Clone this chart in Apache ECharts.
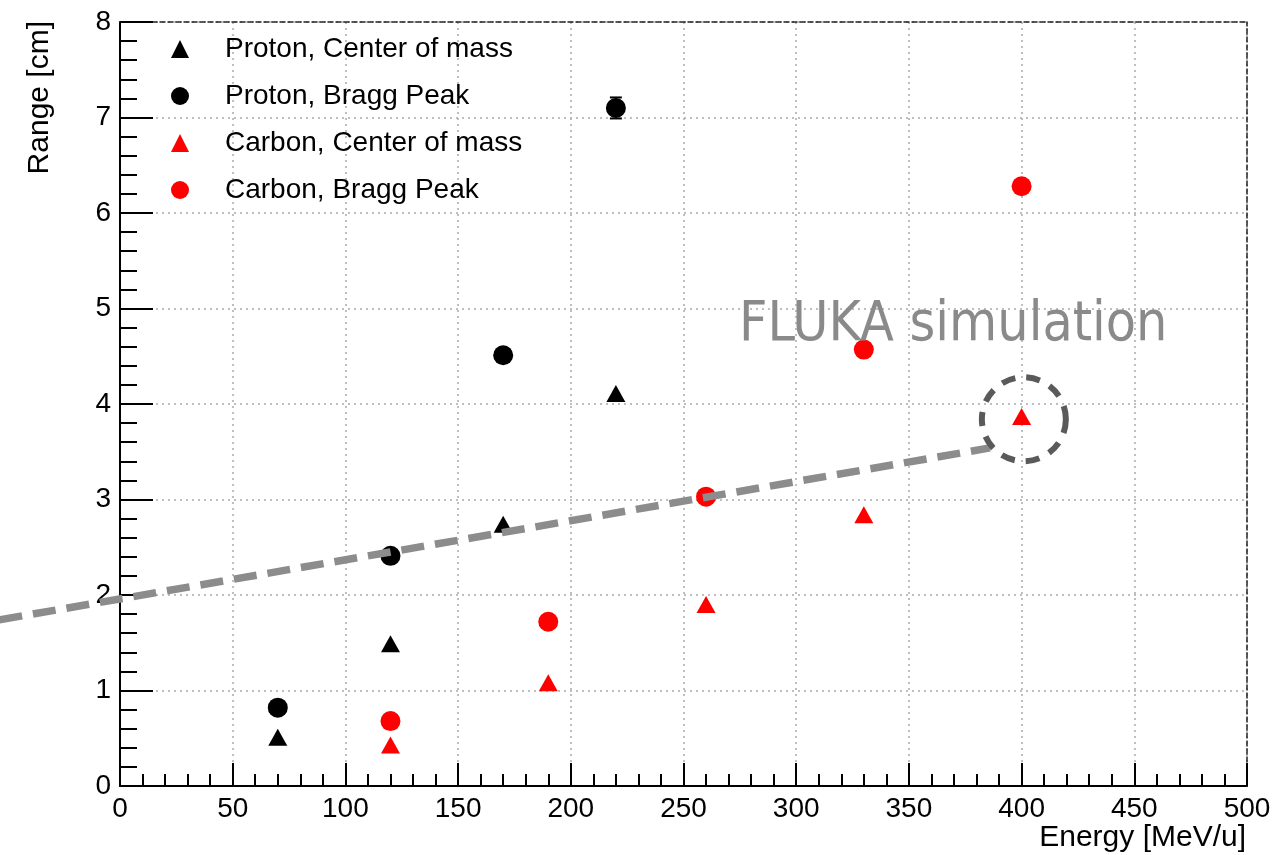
<!DOCTYPE html>
<html><head><meta charset="utf-8">
<script src="https://cdn.jsdelivr.net/npm/echarts@6/dist/echarts.min.js"></script>
<style>html,body{margin:0;padding:0;background:#fff}#c{width:1275px;height:855px}</style>
</head><body><div id="c"></div>
<script>
// ---- data ----
const seriesNames = ['Proton, Center of mass', 'Proton, Bragg Peak', 'Carbon, Center of mass', 'Carbon, Bragg Peak'];
const protonCM_E = [70, 120, 170, 220];
const protonCM_R = [0.51, 1.49, 2.74, 4.11];
const protonBP_E = [70, 120, 170, 220];
const protonBP_R = [0.82, 2.41, 4.51, 7.10];
const protonBP_Err = [0, 0, 0, 0.11];
const carbonCM_E = [120, 190, 260, 330, 400];
const carbonCM_R = [0.43, 1.08, 1.90, 2.84, 3.87];
const carbonBP_E = [120, 190, 260, 330, 400];
const carbonBP_R = [0.68, 1.72, 3.03, 4.57, 6.28];
const xTickValues = [0, 50, 100, 150, 200, 250, 300, 350, 400, 450, 500];
const yTickValues = [0, 1, 2, 3, 4, 5, 6, 7, 8];
// annotations (data coordinates)
const guideLine = [[-53.5, 1.74], [386, 3.54]];
const highlightCenter = [401, 3.84];
const annotationText = 'FLUKA simulation';
const xTitle = 'Energy [MeV/u]';
const yTitle = 'Range [cm]';

const zip = (a, b) => a.map((v, i) => [v, b[i]]);
const FONT = '"Liberation Sans", Arial, Helvetica, sans-serif';

const chart = echarts.init(document.getElementById('c'), null, {renderer: 'canvas'});

const axisCommon = {
  type: 'value',
  axisLine: {show: true, onZero: false, lineStyle: {color: '#000', width: 2}},
  axisLabel: {color: '#000', fontFamily: FONT, fontSize: 28, margin: 8},
  splitLine: {show: true, lineStyle: {color: '#aaa', width: 1.5, type: [2, 4]}},
  minorTick: {show: true, splitNumber: 5, lineStyle: {color: '#000', width: 2}},
  minorSplitLine: {show: false}
};

const option = {
  animation: false,
  backgroundColor: '#fff',
  grid: {left: 120, top: 22, right: 28, bottom: 69, show: false},
  xAxis: [
    Object.assign({}, axisCommon, {
      min: xTickValues[0], max: xTickValues[xTickValues.length - 1], interval: 50,
      axisTick: {show: true, inside: true, length: 23, lineStyle: {color: '#000', width: 2}},
      minorTick: {show: true, splitNumber: 5, length: 12, lineStyle: {color: '#000', width: 2}},
      axisLabel: {color: '#000', fontFamily: FONT, fontSize: 28, margin: 9, showMaxLabel: true, showMinLabel: true}
    }),
    {type: 'value', position: 'top', min: 0, max: 500, interval: 50,
      axisLine: {show: true, onZero: false, lineStyle: {color: '#222', width: 1.5, type: [5, 3]}},
      axisTick: {show: false}, axisLabel: {show: false}, splitLine: {show: false}}
  ],
  yAxis: [
    Object.assign({}, axisCommon, {
      min: yTickValues[0], max: yTickValues[yTickValues.length - 1], interval: 1,
      axisTick: {show: true, inside: true, length: 33, lineStyle: {color: '#000', width: 2}},
      minorTick: {show: true, splitNumber: 5, length: 17, lineStyle: {color: '#000', width: 2}},
      axisLabel: {color: '#000', fontFamily: FONT, fontSize: 28, margin: 9, showMaxLabel: true, showMinLabel: true}
    }),
    {type: 'value', position: 'right', min: 0, max: 8, interval: 1,
      axisLine: {show: true, onZero: false, lineStyle: {color: '#222', width: 1.5, type: [5, 3]}},
      axisTick: {show: false}, axisLabel: {show: false}, splitLine: {show: false}}
  ],
  legend: {
    orient: 'vertical', left: 166, top: 29,
    itemWidth: 18, itemHeight: 18, itemGap: 17,
    itemStyle: {opacity: 1},
    textStyle: {color: '#000', fontFamily: FONT, fontSize: 28, lineHeight: 30, padding: [0, 0, 0, 31]},
    data: [
      {name: seriesNames[0], icon: 'triangle'},
      {name: seriesNames[1], icon: 'circle'},
      {name: seriesNames[2], icon: 'triangle'},
      {name: seriesNames[3], icon: 'circle'}
    ]
  },
  series: [
    {name: seriesNames[0], type: 'scatter', symbol: 'triangle', symbolSize: [19, 17],
      itemStyle: {color: '#000', opacity: 1}, data: zip(protonCM_E, protonCM_R), z: 3},
    {name: seriesNames[1], type: 'scatter', symbol: 'circle', symbolSize: 20,
      itemStyle: {color: '#000', opacity: 1}, data: zip(protonBP_E, protonBP_R), z: 3},
    {name: seriesNames[2], type: 'scatter', symbol: 'triangle', symbolSize: [19, 17],
      itemStyle: {color: '#ff0000', opacity: 1}, data: zip(carbonCM_E, carbonCM_R), z: 3},
    {name: seriesNames[3], type: 'scatter', symbol: 'circle', symbolSize: 20,
      itemStyle: {color: '#ff0000', opacity: 1}, data: zip(carbonBP_E, carbonBP_R), z: 3},
    {name: 'errors', type: 'custom', z: 2, silent: true,
      data: protonBP_E.map((e, i) => [e, protonBP_R[i] - protonBP_Err[i], protonBP_R[i] + protonBP_Err[i]]).filter((d, i) => protonBP_Err[i] > 0),
      renderItem: function (params, api) {
        const lo = api.coord([api.value(0), api.value(1)]);
        const hi = api.coord([api.value(0), api.value(2)]);
        const w = 6;
        const st = {stroke: '#000', lineWidth: 2};
        return {type: 'group', children: [
          {type: 'line', shape: {x1: lo[0], y1: lo[1], x2: hi[0], y2: hi[1]}, style: st},
          {type: 'line', shape: {x1: lo[0] - w, y1: lo[1], x2: lo[0] + w, y2: lo[1]}, style: st},
          {type: 'line', shape: {x1: hi[0] - w, y1: hi[1], x2: hi[0] + w, y2: hi[1]}, style: st}
        ]};
      }
    }
  ]
};
chart.setOption(option);

// annotations positioned through the grid's coordinate conversion
const p0 = chart.convertToPixel({gridIndex: 0}, guideLine[0]);
const p1 = chart.convertToPixel({gridIndex: 0}, guideLine[1]);
const pc = chart.convertToPixel({gridIndex: 0}, highlightCenter);
chart.setOption({
  graphic: [
    {type: 'line', z: 100, shape: {x1: p0[0], y1: p0[1], x2: p1[0], y2: p1[1]},
      style: {stroke: '#8c8c8c', lineWidth: 7.5, lineDash: [23, 11]}},
    {type: 'circle', z: 100, shape: {cx: pc[0], cy: pc[1], r: 42},
      style: {fill: null, stroke: '#5a5a5a', lineWidth: 6, lineDash: [14, 11]}},
    {type: 'text', z: 90, x: 739, y: 326,
      style: {text: annotationText, fill: '#8a8a8a', font: '55px "DejaVu Sans Condensed", "DejaVu Sans", sans-serif', textAlign: 'left', textVerticalAlign: 'middle'}},
    {type: 'text', z: 100, x: 40, y: 21, rotation: Math.PI / 2,
      style: {text: yTitle, fill: '#000', font: '30px ' + FONT, textAlign: 'right', textVerticalAlign: 'middle'}},
    {type: 'text', z: 100, x: 1246, y: 838,
      style: {text: xTitle, fill: '#000', font: '30px ' + FONT, textAlign: 'right', textVerticalAlign: 'middle'}}
  ]
});
</script>
</body></html>
